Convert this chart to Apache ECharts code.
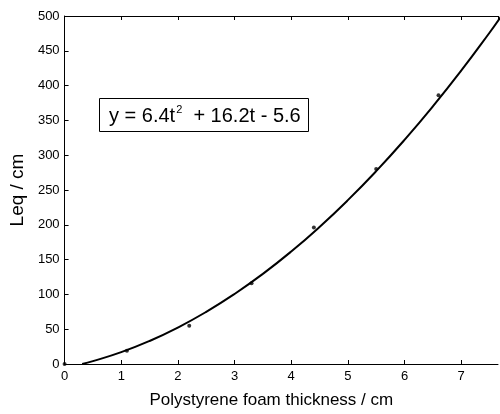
<!DOCTYPE html>
<html>
<head>
<meta charset="utf-8">
<script src="https://cdn.jsdelivr.net/npm/echarts@6/dist/echarts.min.js"></script>
<style>
  html, body { margin: 0; padding: 0; background: #fff; }
  #chart { width: 500px; height: 414px; }
</style>
</head>
<body>
<div id="chart"></div>
<script>
// Measured points: foam thickness (cm) vs equivalent length (cm)
const thickness = [0, 1.1, 2.2, 3.3, 4.4, 5.5, 6.6];
const leq = [0, 19, 55, 116, 196, 280, 386];

// Fitted quadratic curve y = 6.4t^2 + 16.2t - 5.6, tabulated
const fitT = [0.31, 0.5, 1, 1.5, 2, 2.5, 3, 3.5, 4, 4.5, 5, 5.5, 6, 6.5, 7, 7.5, 7.71];
const fitY = [0, 4.1, 17, 33.1, 52.4, 74.9, 100.6, 129.5, 161.6, 196.9, 235.4, 277.1, 322, 370.1, 421.4, 475.9, 500];

const xTicks = [0, 1, 2, 3, 4, 5, 6, 7];
const yTicks = [0, 50, 100, 150, 200, 250, 300, 350, 400, 450, 500];

const X_MAX = 7.65;
const tickFont = '"Liberation Sans Narrow", "Liberation Sans", Arial, sans-serif';
const mainFont = '"Liberation Sans", Arial, sans-serif';

const chart = echarts.init(document.getElementById('chart'));

const axisLine = { show: true, lineStyle: { color: '#000', width: 1 } };
const axisTick = { show: true, inside: true, length: 4, lineStyle: { color: '#000' } };

chart.setOption({
  animation: false,
  backgroundColor: '#fff',
  title: {
    left: 99,
    top: 98,
    padding: [6, 8, 6, 10],
    borderColor: '#000',
    borderWidth: 1,
    text: '{t|y = 6.4t}{s|2}{t|  + 16.2t - 5.6}',
    textStyle: {
      fontWeight: 'normal',
      rich: {
        t: { fontFamily: mainFont, fontSize: 20, fontWeight: 'normal', color: '#000', lineHeight: 22, verticalAlign: 'bottom' },
        s: { fontFamily: mainFont, fontSize: 11, fontWeight: 'normal', color: '#000', lineHeight: 22, verticalAlign: 'top', padding: [0, 0, 10, 1] }
      }
    }
  },
  grid: { left: 62, top: 16, right: 2, bottom: 43 },
  xAxis: [
    {
      type: 'value', min: 0, max: X_MAX, interval: 1,
      axisLine, axisTick, splitLine: { show: false },
      axisLabel: {
        showMaxLabel: false, margin: 6, color: '#000', fontFamily: tickFont, fontSize: 13,
        formatter: v => (xTicks.indexOf(v) >= 0 ? String(v) : '')
      },
      name: 'Polystyrene foam thickness / cm',
      nameLocation: 'middle', nameGap: 28,
      nameTextStyle: { fontFamily: mainFont, fontSize: 17, color: '#000', padding: [0, 20, 0, 0] }
    },
    {
      type: 'value', position: 'top', min: 0, max: X_MAX, interval: 1,
      axisLine, axisTick, axisLabel: { show: false }, splitLine: { show: false }
    }
  ],
  yAxis: {
    type: 'value', min: 0, max: 500, interval: 50,
    axisLine, axisTick, splitLine: { show: false },
    axisLabel: {
      margin: 5, color: '#000', fontFamily: tickFont, fontSize: 13,
      formatter: v => (yTicks.indexOf(v) >= 0 ? String(v) : '')
    },
    name: 'Leq / cm',
    nameLocation: 'middle', nameGap: 35,
    nameTextStyle: { fontFamily: mainFont, fontSize: 19, color: '#000' }
  },
  series: [
    {
      type: 'line',
      data: fitT.map((t, i) => [t, fitY[i]]),
      showSymbol: false,
      smooth: true,
      lineStyle: { color: '#000', width: 2 },
      z: 2
    },
    {
      type: 'scatter',
      data: thickness.map((t, i) => [t, leq[i]]),
      symbol: 'circle',
      symbolSize: 4,
      itemStyle: { color: '#000' },
      z: 3
    }
  ]
});
</script>
</body>
</html>
